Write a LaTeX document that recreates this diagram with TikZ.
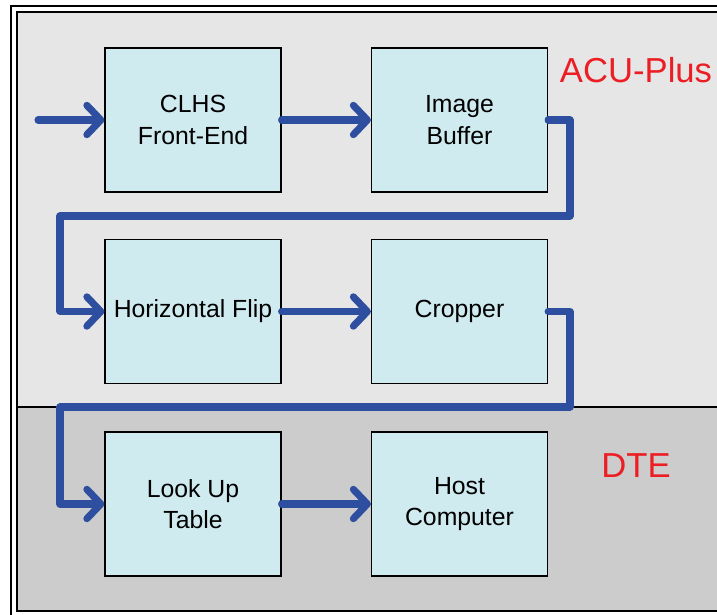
\documentclass[tikz,border=0pt]{standalone}
\usepackage{fontspec}
\setmainfont{Liberation Sans}
\usetikzlibrary{arrows.meta}
\definecolor{acubg}{RGB}{230,230,230}
\definecolor{dtebg}{RGB}{204,204,204}
\definecolor{boxfill}{RGB}{207,235,240}
\definecolor{flowblue}{RGB}{46,78,160}
\definecolor{lblred}{RGB}{236,30,36}
\tikzset{
  blockbox/.style={draw=black, line width=0.9pt, fill=boxfill, minimum width=176*0.75pt, minimum height=144*0.75pt, inner sep=0pt, align=center, font=\fontsize{18.6}{23.4}\selectfont},
  flow/.style={draw=flowblue, line width=5.3pt, line cap=round, line join=round, -{Straight Barb[length=10.5pt, width=22pt, round]}},
  zonelbl/.style={text=lblred, font=\fontsize{26}{30}\selectfont, inner sep=0pt}
}
\begin{document}
\begin{tikzpicture}[x=0.75pt,y=-0.75pt]
\useasboundingbox (0,0) rectangle (717,614);
\clip (0,0) rectangle (717,614);
\fill[white] (0,0) rectangle (717,614);
% outer frame
\draw[line width=1.6pt] (11,6) rectangle (740,640);
% zones
\fill[acubg] (17,12) rectangle (740,407);
\fill[dtebg] (17,407) rectangle (740,611);
\draw[line width=1.1pt] (17,12) rectangle (740,611);
\draw[line width=1.1pt] (17,407) -- (740,407);
% zone labels
\node[zonelbl] (acu) at (636,70) {ACU-Plus};
\node[zonelbl] (dte) at (636,466) {DTE};
% blocks
\node[blockbox] (clhs) at (193,120) {CLHS\\Front-End};
\node[blockbox] (ib) at (459.5,120) {Image\\Buffer};
\node[blockbox] (hf) at (193,311.5) {Horizontal Flip};
\node[blockbox] (cr) at (459.5,311.5) {Cropper};
\node[blockbox] (lut) at (193,504) {Look Up\\Table};
\node[blockbox] (hc) at (459.5,504) {Host\\Computer};
% connectors
\coordinate (in) at (38,120);
\coordinate (a1) at (570,216);
\coordinate (a2) at (60,216);
\coordinate (b1) at (570,407);
\coordinate (b2) at (60,407);
\draw[flow] (in) -- (clhs.west);
\draw[flow] (clhs.east) -- (ib.west);
\draw[flow] (ib.east) -| (a1) -- (a2) |- (hf.west);
\draw[flow] (hf.east) -- (cr.west);
\draw[flow] (cr.east) -| (b1) -- (b2) |- (lut.west);
\draw[flow] (lut.east) -- (hc.west);
\end{tikzpicture}
\end{document}
